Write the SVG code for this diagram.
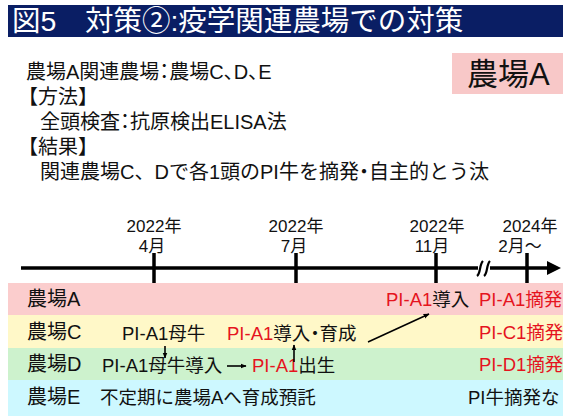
<svg xmlns="http://www.w3.org/2000/svg" width="563" height="416" viewBox="0 0 563 416">
<defs>
<style>
text{font-family:"Liberation Sans","Noto Sans CJK JP",sans-serif;fill:#111}
.title{font-size:28.5px;fill:#fff}
.body{font-size:20px}
.lbl{font-size:20px}
.row{font-size:18.5px}
.date{font-size:17px;text-anchor:middle}
.red{fill:#e5141e}
.p{font-feature-settings:"palt"}
.tick{stroke:#000;stroke-width:3.5}
.arr{stroke:#000;stroke-width:1.6;fill:none}
</style>
<marker id="ah" viewBox="0 0 10 10" refX="9" refY="5" markerWidth="6" markerHeight="6" orient="auto" markerUnits="userSpaceOnUse">
<path d="M0,1 L10,5 L0,9 Z" fill="#000"/>
</marker>
</defs>
<rect width="563" height="416" fill="#fff"/>
<g id="title">
<rect x="8" y="5" width="555" height="32" fill="#0a1e64"/>
<text class="title" x="12" y="31">図5<tspan class="p">　</tspan>対策②:疫学関連農場での対策</text>
</g>
<g id="farmA-badge">
<rect x="452" y="53" width="111" height="41" fill="#f8c8c8"/>
<text x="467" y="85" style="font-size:31px">農場A</text>
</g>
<g id="summary">
<text class="body" x="26" y="79">農場A関連農場<tspan class="p">：</tspan>農場C<tspan class="p">、</tspan>D<tspan class="p">、</tspan>E</text>
<text class="body" x="18" y="104">【方法】</text>
<text class="body" x="40" y="129">全頭検査<tspan class="p">：</tspan>抗原検出ELISA法</text>
<text class="body" x="18" y="154">【結果】</text>
<text class="body" x="40" y="179">関連農場C、Dで各1頭のPI牛を摘発<tspan class="p">・</tspan>自主的とう汰</text>
</g>
<g id="timeline">
<line x1="21" y1="268" x2="550" y2="268" stroke="#000" stroke-width="3.5"/>
<path d="M547,261 L561,268 L547,275 Z" fill="#000"/>
<line class="tick" x1="154" y1="253" x2="154" y2="283"/>
<line class="tick" x1="296" y1="253" x2="296" y2="283"/>
<line class="tick" x1="436" y1="253" x2="436" y2="283"/>
<line class="tick" x1="527" y1="253" x2="527" y2="283"/>
<rect x="478" y="264" width="12" height="8" fill="#fff"/>
<path d="M477,276 C481,273 479,265 483,261 M484,276 C488,273 486,265 490,261" stroke="#000" stroke-width="2.2" fill="none"/>
<text class="date" x="154" y="232">2022年</text>
<text class="date" x="152" y="252">4月</text>
<text class="date" x="296" y="232">2022年</text>
<text class="date" x="294" y="252">7月</text>
<text class="date" x="437" y="232">2022年</text>
<text class="date" x="432" y="252">11月</text>
<text class="date" x="530" y="232">2024年</text>
<text class="date" x="520" y="252">2月～</text>
</g>
<g id="rowA">
<rect x="8" y="283" width="555" height="32" fill="#fbcdcd"/>
<text class="lbl" x="27" y="306">農場A</text>
<text class="row" x="386" y="306"><tspan class="red">PI-A1</tspan>導入</text>
<text class="row red" x="479" y="306">PI-A1摘発</text>
</g>
<g id="rowC">
<rect x="8" y="315" width="555" height="33" fill="#fff8c8"/>
<text class="lbl" x="27" y="339">農場C</text>
<text class="row" x="122" y="340">PI-A1母牛</text>
<text class="row" x="227" y="340"><tspan class="red">PI-A1</tspan>導入<tspan class="p">・</tspan>育成</text>
<text class="row red" x="479" y="339">PI-C1摘発</text>
</g>
<g id="rowD">
<rect x="8" y="348" width="555" height="32" fill="#cdf2cd"/>
<text class="lbl" x="27" y="371">農場D</text>
<text class="row" x="102" y="372">PI-A1母牛導入</text>
<text class="row" x="252" y="372"><tspan class="red">PI-A1</tspan>出生</text>
<text class="row red" x="479" y="371">PI-D1摘発</text>
</g>
<g id="rowE">
<rect x="8" y="380" width="555" height="36" fill="#cdf8ff"/>
<text class="lbl" x="27" y="404">農場E</text>
<text class="row" x="100" y="404">不定期に農場Aへ育成預託</text>
<text class="row" x="468" y="404">PI牛摘発なし</text>
</g>
<g id="connectors">
<line class="arr" x1="165" y1="346" x2="165" y2="358" marker-end="url(#ah)"/>
<line class="arr" x1="227" y1="366" x2="246" y2="366" marker-end="url(#ah)"/>
<line class="arr" x1="294" y1="362" x2="294" y2="345" marker-end="url(#ah)"/>
<line class="arr" x1="368" y1="342" x2="429" y2="314" marker-end="url(#ah)"/>
</g>
</svg>
